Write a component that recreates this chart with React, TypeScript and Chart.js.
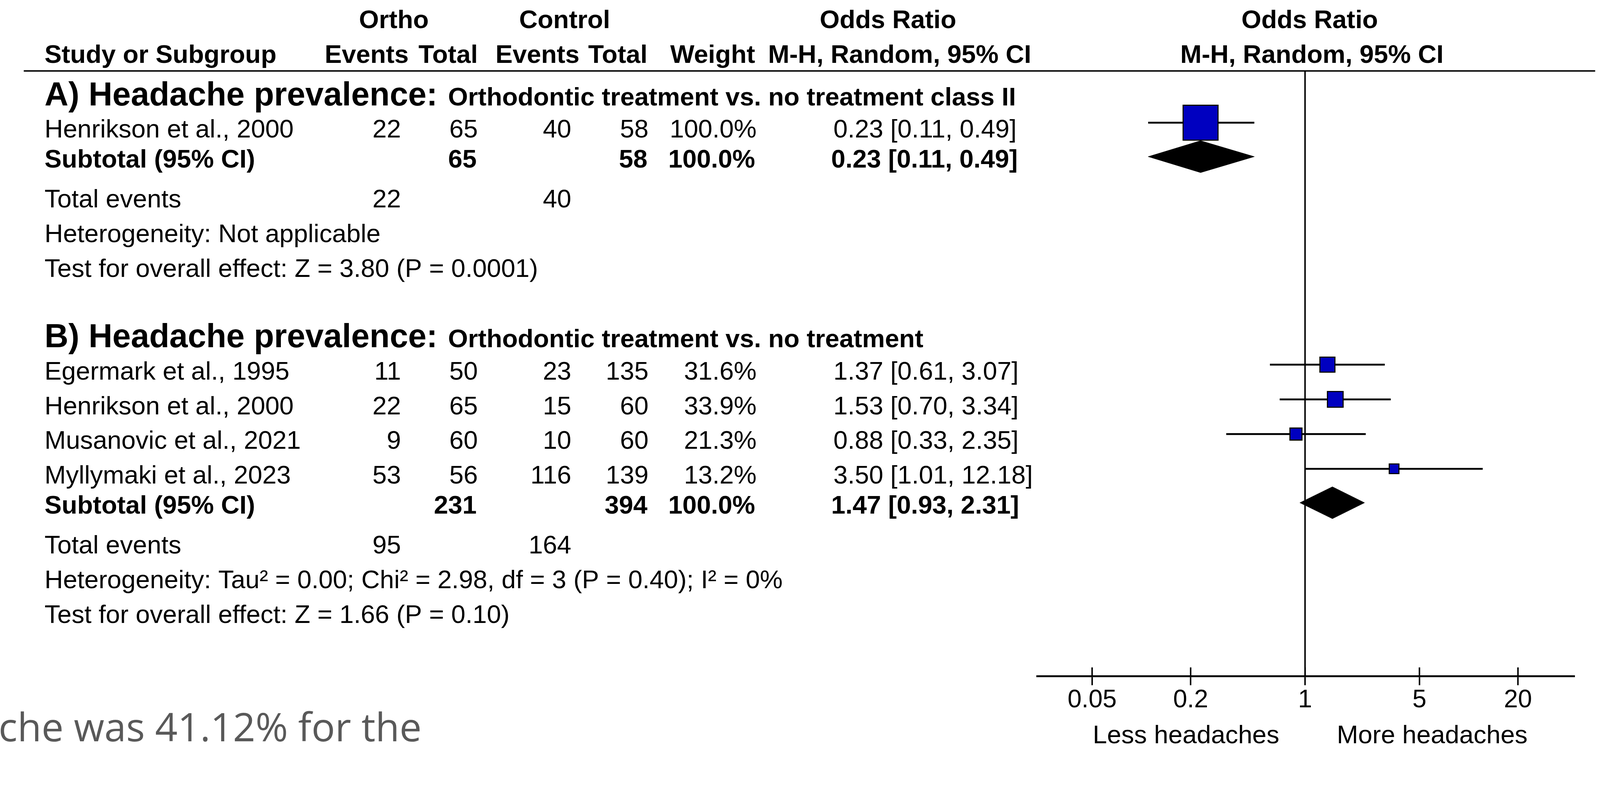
import React, { useEffect, useRef } from "react";
import { Chart, registerables } from "chart.js";

Chart.register(...registerables);

const CANVAS_W = 4310;
const CANVAS_H = 2015;

// ---------------- data ----------------
const groupTitles = ["A) Headache prevalence:", "B) Headache prevalence:"];
const groupComparisons = [
  "Orthodontic treatment vs. no treatment class II",
  "Orthodontic treatment vs. no treatment",
];
const studyGroup = [0, 1, 1, 1, 1];
const studyNames = [
  "Henrikson et al., 2000",
  "Egermark et al., 1995",
  "Henrikson et al., 2000",
  "Musanovic et al., 2021",
  "Myllymaki et al., 2023",
];
const orthoEvents = [22, 11, 22, 9, 53];
const orthoTotals = [65, 50, 65, 60, 56];
const controlEvents = [40, 23, 15, 10, 116];
const controlTotals = [58, 135, 60, 60, 139];
const weights = [100.0, 31.6, 33.9, 21.3, 13.2];
const oddsRatios = [0.23, 1.37, 1.53, 0.88, 3.5];
const ciLower = [0.11, 0.61, 0.7, 0.33, 1.01];
const ciUpper = [0.49, 3.07, 3.34, 2.35, 12.18];

const subtotalOrthoTotals = [65, 231];
const subtotalControlTotals = [58, 394];
const subtotalWeights = [100.0, 100.0];
const subtotalOR = [0.23, 1.47];
const subtotalLower = [0.11, 0.93];
const subtotalUpper = [0.49, 2.31];
const totalOrthoEvents = [22, 95];
const totalControlEvents = [40, 164];
const heterogeneityTexts = [
  "Heterogeneity: Not applicable",
  "Heterogeneity: Tau\u00B2 = 0.00; Chi\u00B2 = 2.98, df = 3 (P = 0.40); I\u00B2 = 0%",
];
const overallEffectTexts = [
  "Test for overall effect: Z = 3.80 (P = 0.0001)",
  "Test for overall effect: Z = 1.66 (P = 0.10)",
];

const axisTicks = [0.05, 0.2, 1, 5, 20];
const axisMin = 0.0231;
const axisMax = 44;
const favourLabels = ["Less headaches", "More headaches"];
const footerFragment = "che was 41.12% for the";

// ---------------- layout / style (in 4310x2015 design pixels) ----------------
const SANS = '"Liberation Sans", Arial, Helvetica, sans-serif';
const FS = 69;
const FS_BIG = 89;
const FS_TICK = 68;

// vertical layout in "line" units (y scale units)
const L = {
  header1: 0,
  header2: 1,
  rule: 1.23,
  firstGroup: 2.22,
  headerToStudy: 0.93,
  studyStep: 1,
  studyToSub: 0.86,
  subToTotal: 1.15,
  noteStep: 1,
  groupGap: 2.03,
  axis: 18.67,
  markLift: 0.428,
  diamondLift: 0.31,
  diamondHalf: 0.46,
};

const PAD = { left: 2794, right: 70, top: 76, axisY: 1822 };
const TICK_LEN = 24;

const COL = {
  name: 120,
  oEv: 1080,
  oTot: 1287,
  cEv: 1539,
  cTot: 1747,
  weight: 2038,
  ci: 2245,
  ciBold: 2239,
  groupSub: 1207,
};
const HEAD = {
  ortho: 1061,
  control: 1521,
  orLeft: 2392,
  orRight: 3528,
  mhRight: 3534,
  evO: 1101,
  totO: 1287,
  evC: 1561,
  totC: 1744,
  weight: 2034,
  mhLeft: 2778,
};

const BLUE = "#0000c0";

function buildRows() {
  const groupCount = groupTitles.length;
  const header: number[] = [];
  const study: number[] = new Array(studyNames.length).fill(0);
  const sub: number[] = [];
  const total: number[] = [];
  const het: number[] = [];
  const test: number[] = [];
  let y = L.firstGroup;
  for (let g = 0; g < groupCount; g++) {
    header[g] = y;
    y += L.headerToStudy;
    const idx = studyGroup.map((gg, i) => (gg === g ? i : -1)).filter((i) => i >= 0);
    idx.forEach((i, k) => {
      study[i] = y;
      if (k < idx.length - 1) y += L.studyStep;
    });
    y += L.studyToSub;
    sub[g] = y;
    y += L.subToTotal;
    total[g] = y;
    y += L.noteStep;
    het[g] = y;
    y += L.noteStep;
    test[g] = y;
    y += L.groupGap;
  }
  return { header, study, sub, total, het, test };
}

const boxSide = (w: number) => 15.7 + 0.783 * w;
const fmtCI = (o: number, lo: number, hi: number) =>
  `${o.toFixed(2)} [${lo.toFixed(2)}, ${hi.toFixed(2)}]`;

export default function App() {
  const ref = useRef<HTMLCanvasElement | null>(null);

  useEffect(() => {
    const canvas = ref.current;
    if (!canvas) return;

    // fit the 4310x2015 design into the actual viewport (CSS px)
    const k = Math.min(window.innerWidth / CANVAS_W, window.innerHeight / CANVAS_H);
    const S = (v: number) => v * k;
    canvas.width = Math.round(CANVAS_W * k);
    canvas.height = Math.round(CANVAS_H * k);
    canvas.style.width = `${Math.round(CANVAS_W * k)}px`;
    canvas.style.height = `${Math.round(CANVAS_H * k)}px`;

    const rows = buildRows();
    const datasets: any[] = [];

    // diamonds (subtotals)
    subtotalOR.forEach((o, g) => {
      const c = rows.sub[g] - L.diamondLift;
      datasets.push({
        type: "line",
        label: `diamond-${g}`,
        data: [
          { x: subtotalLower[g], y: c },
          { x: o, y: c - L.diamondHalf },
          { x: subtotalUpper[g], y: c },
          { x: o, y: c + L.diamondHalf },
          { x: subtotalLower[g], y: c },
        ],
        borderColor: "#000",
        backgroundColor: "#000",
        borderWidth: S(1),
        fill: "shape",
        pointRadius: 0,
        tension: 0,
        order: 0,
      });
    });

    // study boxes
    datasets.push({
      type: "scatter",
      label: "studies",
      data: oddsRatios.map((o, i) => ({ x: o, y: rows.study[i] - L.markLift })),
      pointStyle: "rect",
      pointRadius: (ctx: any) => S(boxSide(weights[ctx.dataIndex])) / Math.SQRT2,
      pointHoverRadius: (ctx: any) => S(boxSide(weights[ctx.dataIndex])) / Math.SQRT2,
      backgroundColor: BLUE,
      borderColor: "#000",
      pointBorderWidth: S(3),
      borderWidth: S(3),
      order: 1,
    });

    // confidence intervals
    oddsRatios.forEach((_, i) => {
      const yy = rows.study[i] - L.markLift;
      datasets.push({
        type: "line",
        label: `ci-${i}`,
        data: [
          { x: ciLower[i], y: yy },
          { x: ciUpper[i], y: yy },
        ],
        borderColor: "#000",
        borderWidth: S(5),
        pointRadius: 0,
        fill: false,
        order: 2,
      });
    });

    // line of no effect
    datasets.push({
      type: "line",
      label: "no-effect",
      data: [
        { x: 1, y: L.rule },
        { x: 1, y: L.axis },
      ],
      borderColor: "#000",
      borderWidth: S(4),
      pointRadius: 0,
      fill: false,
      order: 3,
    });

    const tablePlugin = {
      id: "forestTable",
      afterDraw(chart: any) {
        const ctx: CanvasRenderingContext2D = chart.ctx;
        const xs = chart.scales.x;
        const ys = chart.scales.y;
        const Y = (v: number) => ys.getPixelForValue(v);
        const txt = (
          s: string,
          px: number,
          py: number,
          align: CanvasTextAlign = "left",
          bold = false,
          size = FS,
          color = "#000",
          family = SANS
        ) => {
          ctx.font = `${bold ? "bold " : ""}${S(size)}px ${family}`;
          ctx.textAlign = align;
          ctx.fillStyle = color;
          ctx.fillText(s, S(px), py);
        };
        ctx.save();
        ctx.textBaseline = "alphabetic";

        // column headers
        const h1 = Y(L.header1);
        const h2 = Y(L.header2);
        txt("Ortho", HEAD.ortho, h1, "center", true);
        txt("Control", HEAD.control, h1, "center", true);
        txt("Odds Ratio", HEAD.orLeft, h1, "center", true);
        txt("Odds Ratio", HEAD.orRight, h1, "center", true);
        txt("Study or Subgroup", COL.name, h2, "left", true);
        txt("Events", HEAD.evO, h2, "right", true);
        txt("Total", HEAD.totO, h2, "right", true);
        txt("Events", HEAD.evC, h2, "right", true);
        txt("Total", HEAD.totC, h2, "right", true);
        txt("Weight", HEAD.weight, h2, "right", true);
        txt("M-H, Random, 95% CI", HEAD.mhLeft, h2, "right", true);
        txt("M-H, Random, 95% CI", HEAD.mhRight, h2, "center", true);

        // header rule
        ctx.strokeStyle = "#000";
        ctx.lineWidth = S(4);
        ctx.beginPath();
        ctx.moveTo(S(64), Y(L.rule));
        ctx.lineTo(S(4297), Y(L.rule));
        ctx.stroke();

        // groups
        groupTitles.forEach((title, g) => {
          const hy = Y(rows.header[g]);
          txt(title, COL.name, hy, "left", true, FS_BIG);
          txt(groupComparisons[g], COL.groupSub, hy, "left", true);

          const sy = Y(rows.sub[g]);
          txt("Subtotal (95% CI)", COL.name, sy, "left", true);
          txt(String(subtotalOrthoTotals[g]), COL.oTot - 3, sy, "right", true);
          txt(String(subtotalControlTotals[g]), COL.cTot - 3, sy, "right", true);
          txt(`${subtotalWeights[g].toFixed(1)}%`, COL.weight - 4, sy, "right", true);
          txt(fmtCI(subtotalOR[g], subtotalLower[g], subtotalUpper[g]), COL.ciBold, sy, "left", true);

          const ty = Y(rows.total[g]);
          txt("Total events", COL.name, ty);
          txt(String(totalOrthoEvents[g]), COL.oEv, ty, "right");
          txt(String(totalControlEvents[g]), COL.cEv, ty, "right");
          txt(heterogeneityTexts[g], COL.name, Y(rows.het[g]));
          txt(overallEffectTexts[g], COL.name, Y(rows.test[g]));
        });

        // studies
        studyNames.forEach((name, i) => {
          const ry = Y(rows.study[i]);
          txt(name, COL.name, ry);
          txt(String(orthoEvents[i]), COL.oEv, ry, "right");
          txt(String(orthoTotals[i]), COL.oTot, ry, "right");
          txt(String(controlEvents[i]), COL.cEv, ry, "right");
          txt(String(controlTotals[i]), COL.cTot, ry, "right");
          txt(`${weights[i].toFixed(1)}%`, COL.weight, ry, "right");
          txt(fmtCI(oddsRatios[i], ciLower[i], ciUpper[i]), COL.ci, ry, "left");
        });

        // upper halves of axis ticks
        const ay = Y(L.axis);
        ctx.lineWidth = S(4);
        ctx.strokeStyle = "#000";
        xs.ticks.forEach((t: any) => {
          const px = xs.getPixelForValue(t.value);
          ctx.beginPath();
          ctx.moveTo(px, ay - S(TICK_LEN));
          ctx.lineTo(px, ay);
          ctx.stroke();
        });

        // favour labels
        txt(favourLabels[0], 3195, ay + S(180), "center", false, FS);
        txt(favourLabels[1], 3858, ay + S(180), "center", false, FS);

        // cropped body text from the page
        txt(footerFragment, -4, S(1997), "left", false, 106, "#595959", '"Open Sans", "Noto Sans", sans-serif');

        ctx.restore();
      },
    };

    const chart = new Chart(canvas, {
      type: "scatter",
      data: { datasets },
      options: {
        animation: false,
        responsive: false,
        events: [],
        layout: {
          padding: {
            left: S(PAD.left),
            right: S(PAD.right),
            top: S(PAD.top),
            bottom: S(CANVAS_H - PAD.axisY - (TICK_LEN + FS_TICK * 1.2)),
          },
        },
        plugins: {
          legend: { display: false },
          tooltip: { enabled: false },
          title: { display: false },
        },
        scales: {
          x: {
            type: "logarithmic",
            min: axisMin,
            max: axisMax,
            position: "bottom",
            afterBuildTicks: (scale: any) => {
              scale.ticks = axisTicks.map((v) => ({ value: v }));
            },
            ticks: {
              autoSkip: false,
              maxRotation: 0,
              minRotation: 0,
              padding: 0,
              color: "#000",
              font: { family: SANS, size: S(FS_TICK) },
              callback: (v: any) => String(v),
            },
            grid: {
              display: true,
              drawOnChartArea: false,
              drawTicks: true,
              tickLength: S(TICK_LEN),
              lineWidth: S(4),
              tickWidth: S(4),
              color: "#000",
              tickColor: "#000",
            },
            border: { display: true, color: "#000", width: S(5) },
          },
          y: {
            type: "linear",
            min: 0,
            max: L.axis,
            reverse: true,
            display: false,
          },
        },
      } as any,
      plugins: [tablePlugin],
    });

    return () => chart.destroy();
  }, []);

  return (
    <div
      style={{
        position: "fixed",
        left: 0,
        top: 0,
        width: "100vw",
        height: "100vh",
        background: "#fff",
        overflow: "hidden",
      }}
    >
      <canvas ref={ref} style={{ display: "block" }} />
    </div>
  );
}
